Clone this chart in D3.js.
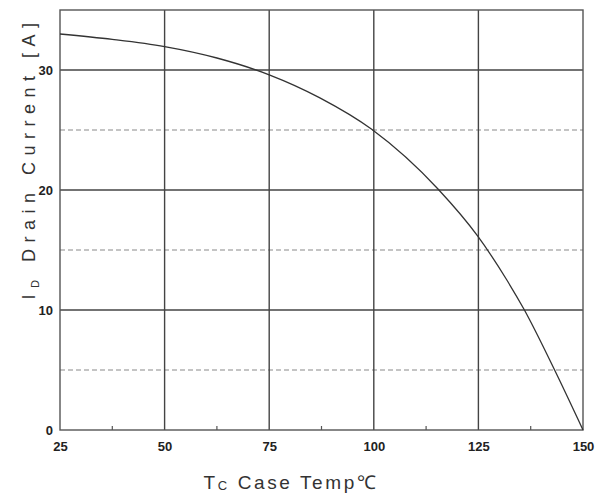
<!DOCTYPE html>
<html><head><meta charset="utf-8">
<script src="https://cdn.jsdelivr.net/npm/d3@7"></script>
<style>body{margin:0;background:#fff;} svg{display:block;}</style>
</head><body>
<svg id="c" width="603" height="497"></svg>
<script>
const temps = [25, 37.5, 50, 62.5, 75, 87, 99.5, 115.4, 124.8, 131.8, 135.9, 143.1, 150];
const current = [33.0, 32.55, 31.95, 31.0, 29.6, 27.7, 25.06, 20.06, 16.17, 12.5, 10.06, 5.08, 0];
const xTicks = [25, 50, 75, 100, 125, 150];
const xMinor = [37.5, 62.5, 87.5, 112.5, 137.5];
const yTicks = [0, 10, 20, 30];
const yDashed = [5, 15, 25];

const svg = d3.select("#c");
const x = d3.scaleLinear().domain([25, 150]).range([60, 583]);
const y = d3.scaleLinear().domain([0, 35]).range([430, 10]);
const FONT = "Arial, 'Liberation Sans', sans-serif";

// dashed grid
svg.append("g").selectAll("line").data(yDashed).join("line")
  .attr("x1", x(25)).attr("x2", x(150)).attr("y1", d => y(d)).attr("y2", d => y(d))
  .attr("stroke", "#8a8a8a").attr("stroke-width", 1.2).attr("stroke-dasharray", "5,3");

// solid grid
svg.append("g").selectAll("line").data(yTicks.filter(d => d > 0)).join("line")
  .attr("x1", x(25)).attr("x2", x(150)).attr("y1", d => y(d)).attr("y2", d => y(d))
  .attr("stroke", "#444").attr("stroke-width", 1.4);
svg.append("g").selectAll("line").data(xTicks.slice(1, -1)).join("line")
  .attr("y1", y(0)).attr("y2", y(35)).attr("x1", d => x(d)).attr("x2", d => x(d))
  .attr("stroke", "#444").attr("stroke-width", 1.4);

// frame
svg.append("rect").attr("x", x(25)).attr("y", y(35)).attr("width", x(150) - x(25)).attr("height", y(0) - y(35))
  .attr("fill", "none").attr("stroke", "#555").attr("stroke-width", 1.4);

// axes (labels)
const xAxis = d3.axisBottom(x).tickValues(xTicks).tickSize(0).tickPadding(12).tickFormat(d3.format("d"));
const gx = svg.append("g").attr("transform", `translate(0,${y(0)})`).call(xAxis);
gx.select(".domain").remove();
gx.selectAll("text").attr("font-family", FONT).attr("font-size", 13).attr("font-weight", "bold").attr("fill", "#222");

const yAxis = d3.axisLeft(y).tickValues(yTicks).tickSize(0).tickPadding(7).tickFormat(d3.format("d"));
const gy = svg.append("g").attr("transform", `translate(${x(25)},0)`).call(yAxis);
gy.select(".domain").remove();
gy.selectAll("text").attr("font-family", FONT).attr("font-size", 13).attr("font-weight", "bold").attr("fill", "#222");

// minor ticks on x
svg.append("g").selectAll("line").data(xMinor).join("line")
  .attr("x1", d => x(d)).attr("x2", d => x(d)).attr("y1", y(0)).attr("y2", y(0) - 4)
  .attr("stroke", "#555").attr("stroke-width", 1.2);

// curve
const line = d3.line().x((d, i) => x(temps[i])).y(d => y(d)).curve(d3.curveMonotoneX);
svg.append("path").datum(current).attr("d", line)
  .attr("fill", "none").attr("stroke", "#333").attr("stroke-width", 1.3);

// x title
const xt = svg.append("text").attr("x", 291).attr("y", 489).attr("text-anchor", "middle")
  .attr("font-family", FONT).attr("font-size", 19).attr("fill", "#333")
  .attr("letter-spacing", 2.6);
xt.append("tspan").text("T");
xt.append("tspan").attr("font-size", 13).attr("dy", 1).text("C");
xt.append("tspan").attr("dy", -1).text(" Case Temp℃");

// y title
const yt = svg.append("text").attr("transform", "translate(35,158) rotate(-90)").attr("text-anchor", "middle")
  .attr("font-family", FONT).attr("font-size", 18).attr("fill", "#333")
  .attr("letter-spacing", 6.5);
yt.append("tspan").text("I");
yt.append("tspan").attr("font-size", 11).attr("dy", 4).text("D");
yt.append("tspan").attr("dy", -4).text(" Drain Current [A]");
</script>
</body></html>
